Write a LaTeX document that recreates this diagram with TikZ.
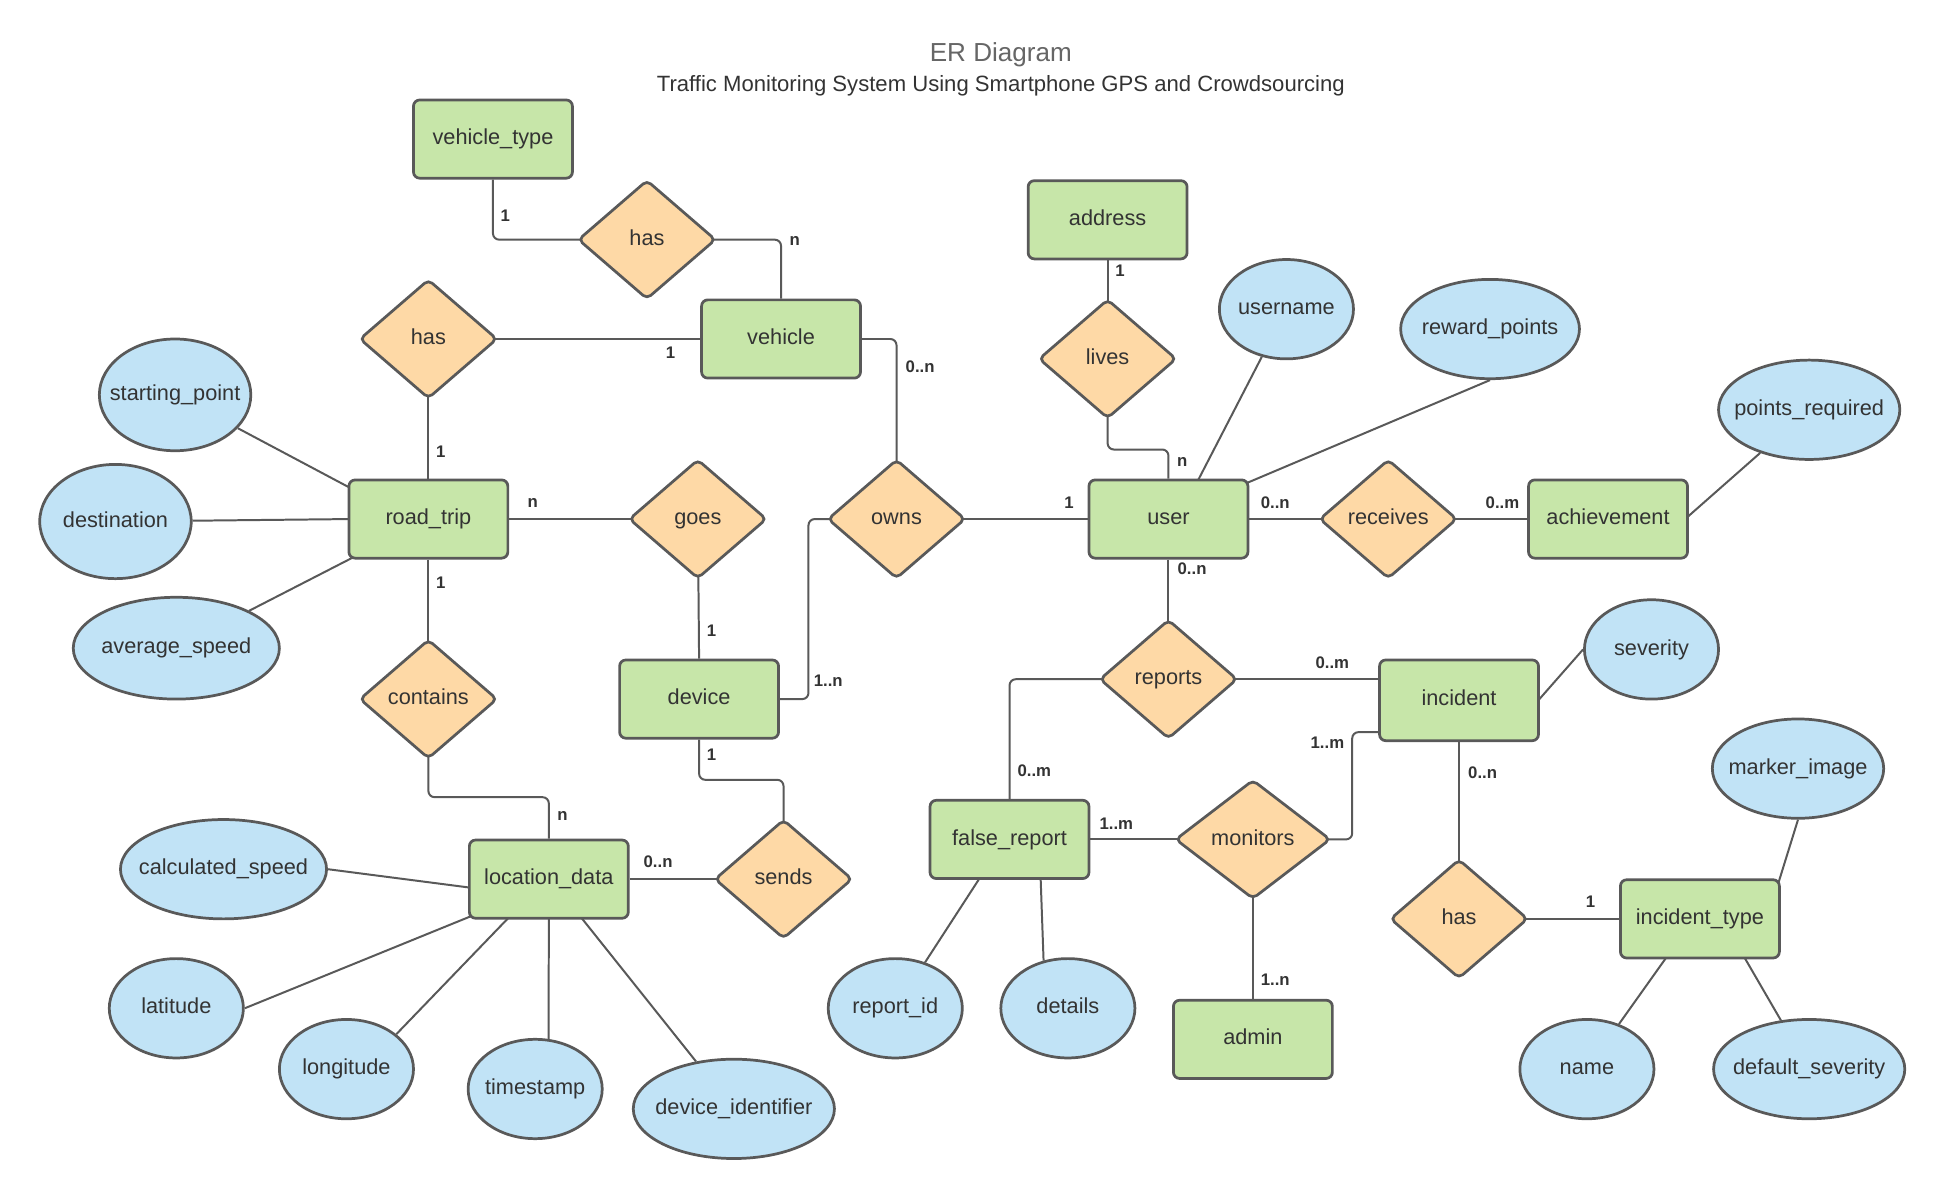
\documentclass[tikz,border=0pt]{standalone}
\usepackage{fontspec}
\setmainfont{Liberation Sans}
\usetikzlibrary{shapes.geometric,backgrounds,calc}

\definecolor{edgegray}{HTML}{595959}
\definecolor{entfill}{HTML}{C7E6A9}
\definecolor{relfill}{HTML}{FED9A6}
\definecolor{attfill}{HTML}{C1E3F6}
\definecolor{inkgray}{HTML}{333333}
\definecolor{titlegray}{HTML}{666666}

% text centred in an ellipse without widening it
\newcommand{\attrlabel}[1]{\makebox[0pt]{#1}}

\tikzset{
  base/.style={draw=edgegray, line width=2.2pt, text=inkgray,
    font=\fontsize{17.5}{20}\selectfont, inner sep=0pt,
    text height=12.6pt, text depth=3.5pt},
  entity/.style={base, rectangle, rounded corners=5pt, fill=entfill,
    minimum width=128pt, minimum height=63pt},
  relation/.style={base, diamond, rounded corners=4pt, fill=relfill,
    minimum width=111pt, minimum height=96pt},
  attribute/.style={base, ellipse, fill=attfill},
  link/.style={draw=edgegray, line width=1.6pt, rounded corners=5pt},
  card/.style={font=\bfseries\fontsize{13.5}{15}\selectfont, text=inkgray, inner sep=0pt},
}

\begin{document}
\begin{tikzpicture}[x=1pt, y=-1pt]
  \useasboundingbox (0,0) rectangle (1568,967);

  % title
  \node[font=\fontsize{21}{24}\selectfont, text=titlegray] (title) at (806,44) {ER Diagram};
  \node[font=\fontsize{17.8}{20}\selectfont, text=inkgray] (subtitle) at (806,69)
    {Traffic Monitoring System Using Smartphone GPS and Crowdsourcing};

  % entities
  \node[entity] (vt)   at (397,112) {vehicle\_type};
  \node[entity] (veh)  at (629,273) {vehicle};
  \node[entity] (addr) at (892,177) {address};
  \node[entity] (rt)   at (345,418) {road\_trip};
  \node[entity] (user) at (941,418) {user};
  \node[entity] (ach)  at (1295,418) {achievement};
  \node[entity] (dev)  at (563,563) {device};
  \node[entity, minimum height=65pt] (inc) at (1175,564) {incident};
  \node[entity] (ld)   at (442,708) {location\_data};
  \node[entity] (fr)   at (813,676) {false\_report};
  \node[entity] (it)   at (1369,740) {incident\_type};
  \node[entity] (adm)  at (1009,837) {admin};

  % relationships
  \node[relation] (ht)    at (521,193) {has};
  \node[relation] (hl)    at (345,273) {has};
  \node[relation] (lives) at (892,289) {lives};
  \node[relation] (goes)  at (562,418) {goes};
  \node[relation] (owns)  at (722,418) {owns};
  \node[relation] (rcv)   at (1118,418) {receives};
  \node[relation] (con)   at (345,563) {contains};
  \node[relation] (rep)   at (941,547) {reports};
  \node[relation] (sends) at (631,708) {sends};
  \node[relation, minimum width=125pt] (mon) at (1009,676) {monitors};
  \node[relation] (hb)    at (1175,740) {has};

  % attributes
  \node[attribute, minimum width=122pt, minimum height=90pt] (sp)   at (141,318) {\attrlabel{starting\_point}};
  \node[attribute, minimum width=122pt, minimum height=92pt] (dest) at (93,420)  {\attrlabel{destination}};
  \node[attribute, minimum width=166pt, minimum height=82pt] (avg)  at (142,522) {\attrlabel{average\_speed}};
  \node[attribute, minimum width=108pt, minimum height=80pt] (un)   at (1036,249) {\attrlabel{username}};
  \node[attribute, minimum width=144pt, minimum height=80pt] (rp)   at (1200,265) {\attrlabel{reward\_points}};
  \node[attribute, minimum width=146pt, minimum height=80pt] (pr)   at (1457,330) {\attrlabel{points\_required}};
  \node[attribute, minimum width=108pt, minimum height=80pt] (sev)  at (1330,523) {\attrlabel{severity}};
  \node[attribute, minimum width=138pt, minimum height=80pt] (mi)   at (1448,619) {\attrlabel{marker\_image}};
  \node[attribute, minimum width=108pt, minimum height=80pt] (nm)   at (1278,861) {\attrlabel{name}};
  \node[attribute, minimum width=154pt, minimum height=80pt] (ds)   at (1457,861) {\attrlabel{default\_severity}};
  \node[attribute, minimum width=108pt, minimum height=80pt] (rid)  at (721,812) {\attrlabel{report\_id}};
  \node[attribute, minimum width=108pt, minimum height=80pt] (det)  at (860,812) {\attrlabel{details}};
  \node[attribute, minimum width=166pt, minimum height=80pt] (cs)   at (180,700) {\attrlabel{calculated\_speed}};
  \node[attribute, minimum width=108pt, minimum height=80pt] (lat)  at (142,812) {\attrlabel{latitude}};
  \node[attribute, minimum width=108pt, minimum height=80pt] (lon)  at (279,861) {\attrlabel{longitude}};
  \node[attribute, minimum width=108pt, minimum height=80pt] (ts)   at (431,877) {\attrlabel{timestamp}};
  \node[attribute, minimum width=162pt, minimum height=80pt] (di)   at (591,893) {\attrlabel{device\_identifier}};

  % white page and connectors, kept behind the shapes
  \begin{scope}[on background layer]
    \fill[white] (0,0) rectangle (1568,967);
    % relationships
    \draw[link] (vt.south) |- (ht.center);
    \draw[link] (ht.center) -| (veh.north);
    \draw[link] (hl.center) -- (veh.west);
    \draw[link] (hl.center) -- (rt.north);
    \draw[link] (rt.east) -- (goes.center);
    \draw[link] (goes.center) -- (dev.north);
    \draw[link] (rt.south) -- (con.center);
    \draw[link] (con.center) -- ++(0,79) -| (ld.north);
    \draw[link] (ld.east) -- (sends.center);
    \draw[link] (sends.center) -- ++(0,-80) -| (dev.south);
    \draw[link] (dev.east) -- ++(23,0) |- (owns.center);
    \draw[link] (owns.center) |- (veh.east);
    \draw[link] (owns.center) -- (user.west);
    \draw[link] (addr.south) -- (lives.center);
    \draw[link] (lives.center) -- ++(0,73) -| (user.north);
    \draw[link] (user.east) -- (rcv.center);
    \draw[link] (rcv.center) -- (ach.west);
    \draw[link] (user.south) -- (rep.center);
    \draw[link] (rep.center) -- (rep.center -| inc.west);
    \draw[link] (rep.center) -| (fr.north);
    \draw[link] (fr.east) -- (mon.center);
    \draw[link] (mon.center) -- ++(80,0) |- ($(inc.south west)+(0,-8)$);
    \draw[link] (mon.center) -- (adm.north);
    \draw[link] (inc.south) -- (hb.center);
    \draw[link] (hb.center) -- (it.west);
    % attributes
    \draw[link] ($(rt.north west)+(3,8)$) -- (sp);
    \draw[link] ($(rt.west)+(3,0)$) -- (dest);
    \draw[link] ($(rt.south west)+(5,-2)$) -- (avg);
    \draw[link] ($(user.north)+(23,3)$) -- (un);
    \draw[link] ($(user.north east)+(-3,4)$) -- (rp.south);
    \draw[link] ($(ach.east)+(-3,0)$) -- (pr);
    \draw[link] ($(inc.east)+(-3,2)$) -- (sev.west);
    \draw[link] ($(it.north east)+(-2,4)$) -- (mi.south);
    \draw[link] ($(it.south)+(-26,-3)$) -- (nm);
    \draw[link] ($(it.south)+(35,-3)$) -- (ds);
    \draw[link] ($(fr.south)+(-23,-3)$) -- (rid);
    \draw[link] ($(fr.south)+(25,-3)$) -- (det.117);
    \draw[link] ($(ld.west)+(3,7)$) -- (cs.east);
    \draw[link] ($(ld.south west)+(3,-3)$) -- (lat.east);
    \draw[link] ($(ld.south)+(-31,-3)$) -- (lon.35);
    \draw[link] ($(ld.south)+(0,-3)$) -- (ts.75);
    \draw[link] ($(ld.south)+(25,-3)$) -- (di);
  \end{scope}

  % cardinalities
  \node[card] (k1)  at (407,174) {1};
  \node[card] (k2)  at (640,194) {n};
  \node[card] (k3)  at (540,284) {1};
  \node[card] (k4)  at (355,364) {1};
  \node[card] (k5)  at (429,405) {n};
  \node[card] (k6)  at (573,508) {1};
  \node[card] (k7)  at (355,469) {1};
  \node[card] (k8)  at (453,657) {n};
  \node[card] (k9)  at (530,694) {0..n};
  \node[card] (k10) at (573,608) {1};
  \node[card] (k11) at (667,548) {1..n};
  \node[card] (k12) at (741,295) {0..n};
  \node[card] (k13) at (861,405) {1};
  \node[card] (k14) at (902,218) {1};
  \node[card] (k15) at (952,372) {n};
  \node[card] (k16) at (1027,405) {0..n};
  \node[card] (k17) at (1210,405) {0..m};
  \node[card] (k18) at (960,458) {0..n};
  \node[card] (k19) at (1073,534) {0..m};
  \node[card] (k20) at (833,621) {0..m};
  \node[card] (k21) at (899,663) {1..m};
  \node[card] (k22) at (1069,598) {1..m};
  \node[card] (k23) at (1027,789) {1..n};
  \node[card] (k24) at (1194,622) {0..n};
  \node[card] (k25) at (1281,726) {1};
\end{tikzpicture}
\end{document}
